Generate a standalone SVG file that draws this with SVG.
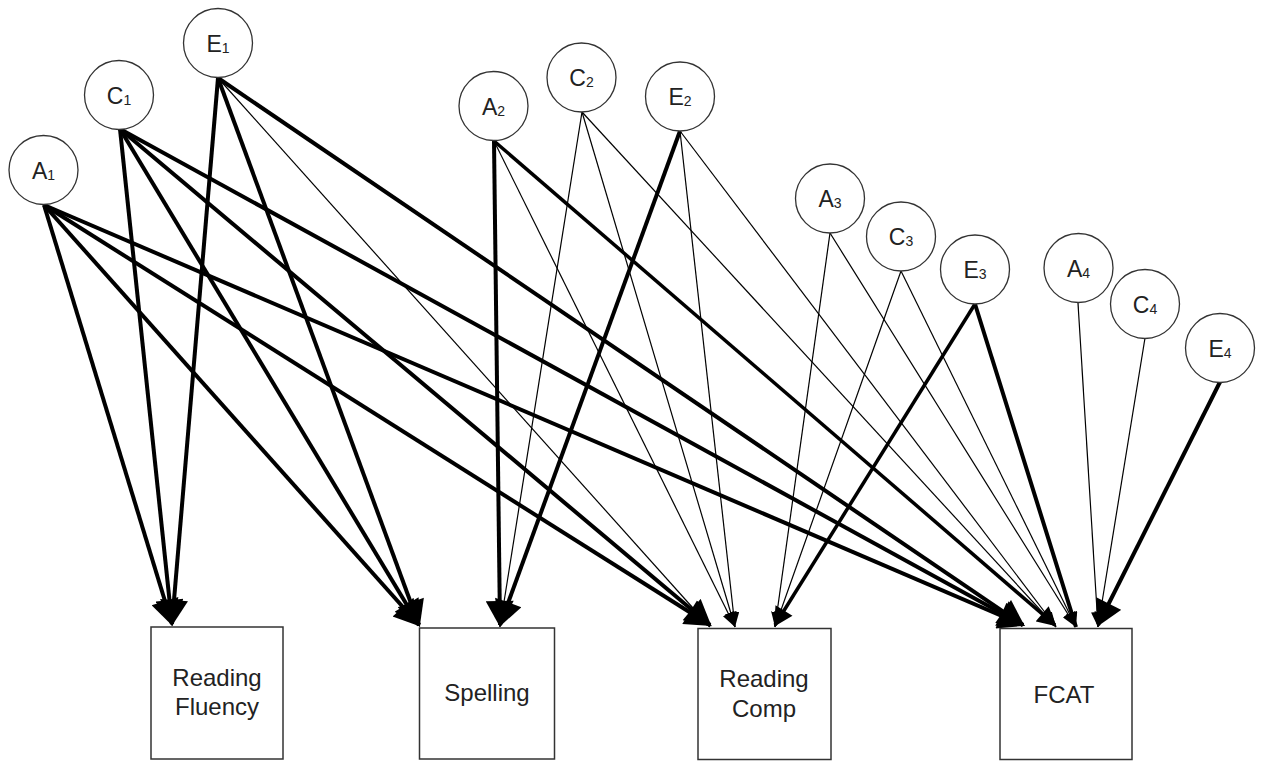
<svg xmlns="http://www.w3.org/2000/svg" width="1265" height="762" viewBox="0 0 1265 762">
<style>
.node circle{fill:#fff;stroke:#333;stroke-width:1.3}
.node rect{fill:#fff;stroke:#333;stroke-width:1.5}
.lbl{font-family:"Liberation Sans",Arial,sans-serif;font-size:23px;fill:#222;text-anchor:middle}
.lbl tspan{font-size:14px}
.box{font-family:"Liberation Sans",Arial,sans-serif;font-size:24px;fill:#222;text-anchor:middle}
.thick{stroke:#000;stroke-width:4;fill:none;marker-end:url(#big)}
.med{stroke:#000;stroke-width:3.5;fill:none;marker-end:url(#mid)}
.thin{stroke:#000;stroke-width:1.2;fill:none;marker-end:url(#small)}
.thickS{stroke:#000;stroke-width:4;fill:none;marker-end:url(#small)}
</style>
<defs>
<marker id="big" markerUnits="userSpaceOnUse" markerWidth="28" markerHeight="28" viewBox="0 0 26 28" refX="24" refY="14" orient="auto"><path d="M0,0 L26,14 L0,28 z" fill="#000"/></marker>
<marker id="mid" markerUnits="userSpaceOnUse" markerWidth="20" markerHeight="20" viewBox="0 0 19 20" refX="17" refY="10" orient="auto"><path d="M0,0 L19,10 L0,20 z" fill="#000"/></marker>
<marker id="small" markerUnits="userSpaceOnUse" markerWidth="15" markerHeight="12" viewBox="0 0 15 12" refX="15" refY="6" orient="auto"><path d="M0,0 L15,6 L0,12 z" fill="#000"/></marker>
</defs>
<rect width="1265" height="762" fill="#fff"/>
<g id="connectors">
<line class="thick" x1="44" y1="205" x2="172" y2="624"/>
<line class="thick" x1="44" y1="205" x2="419" y2="625"/>
<line class="thick" x1="44" y1="205" x2="710" y2="625"/>
<line class="thick" x1="44" y1="205" x2="1023" y2="625"/>
<line class="thick" x1="120" y1="129" x2="172" y2="624"/>
<line class="thick" x1="120" y1="129" x2="419" y2="625"/>
<line class="thick" x1="120" y1="129" x2="710" y2="625"/>
<line class="thick" x1="120" y1="129" x2="1023" y2="625"/>
<line class="thick" x1="218" y1="78" x2="172" y2="624"/>
<line class="thick" x1="218" y1="78" x2="419" y2="625"/>
<line class="thin" x1="218" y1="78" x2="710" y2="627"/>
<line class="thick" x1="218" y1="78" x2="1023" y2="625"/>
<line class="thick" x1="494" y1="141" x2="500" y2="625"/>
<line class="thin" x1="494" y1="141" x2="735" y2="627"/>
<line class="med" x1="494" y1="141" x2="1055" y2="625"/>
<line class="thin" x1="582" y1="112" x2="500" y2="627"/>
<line class="thin" x1="582" y1="112" x2="735" y2="627"/>
<line class="thin" x1="582" y1="112" x2="1056" y2="627"/>
<line class="thick" x1="680" y1="131" x2="500" y2="625"/>
<line class="thin" x1="680" y1="131" x2="735" y2="627"/>
<line class="thin" x1="680" y1="131" x2="1056" y2="627"/>
<line class="thin" x1="830" y1="233" x2="775" y2="627"/>
<line class="thin" x1="830" y1="233" x2="1076" y2="627"/>
<line class="thin" x1="901" y1="271" x2="775" y2="627"/>
<line class="thin" x1="901" y1="271" x2="1076" y2="627"/>
<line class="med" x1="975" y1="304" x2="775" y2="625"/>
<line class="thickS" x1="975" y1="304" x2="1076" y2="627"/>
<line class="thin" x1="1078" y1="303" x2="1098" y2="627"/>
<line class="thin" x1="1145" y1="338" x2="1098" y2="627"/>
<line class="thick" x1="1220" y1="382" x2="1098" y2="625"/>
</g>
<g id="A1" class="node"><circle cx="43.5" cy="170" r="34.5"/><text class="lbl" x="43.5" y="178.5">A<tspan dy="1">1</tspan></text></g>
<g id="C1" class="node"><circle cx="119" cy="95" r="34.5"/><text class="lbl" x="119" y="103.5">C<tspan dy="1">1</tspan></text></g>
<g id="E1" class="node"><circle cx="218" cy="43" r="34.5"/><text class="lbl" x="218" y="51.5">E<tspan dy="1">1</tspan></text></g>
<g id="A2" class="node"><circle cx="493.5" cy="106" r="34.5"/><text class="lbl" x="493.5" y="114.5">A<tspan dy="1">2</tspan></text></g>
<g id="C2" class="node"><circle cx="581.5" cy="77.5" r="34.5"/><text class="lbl" x="581.5" y="86">C<tspan dy="1">2</tspan></text></g>
<g id="E2" class="node"><circle cx="680" cy="96.5" r="34.5"/><text class="lbl" x="680" y="105">E<tspan dy="1">2</tspan></text></g>
<g id="A3" class="node"><circle cx="830" cy="198.5" r="34.5"/><text class="lbl" x="830" y="207">A<tspan dy="1">3</tspan></text></g>
<g id="C3" class="node"><circle cx="901" cy="236.5" r="34.5"/><text class="lbl" x="901" y="245">C<tspan dy="1">3</tspan></text></g>
<g id="E3" class="node"><circle cx="975" cy="269.5" r="34.5"/><text class="lbl" x="975" y="278">E<tspan dy="1">3</tspan></text></g>
<g id="A4" class="node"><circle cx="1078.5" cy="268" r="34.5"/><text class="lbl" x="1078.5" y="276.5">A<tspan dy="1">4</tspan></text></g>
<g id="C4" class="node"><circle cx="1145" cy="304" r="34.5"/><text class="lbl" x="1145" y="312.5">C<tspan dy="1">4</tspan></text></g>
<g id="E4" class="node"><circle cx="1220" cy="348" r="34.5"/><text class="lbl" x="1220" y="356.5">E<tspan dy="1">4</tspan></text></g>
<g id="ReadingFluency" class="node"><rect x="151" y="627" width="132" height="132"/><text class="box" x="217" y="686">Reading</text><text class="box" x="217" y="715">Fluency</text></g>
<g id="Spelling" class="node"><rect x="419.5" y="628" width="135" height="131"/><text class="box" x="487" y="701">Spelling</text></g>
<g id="ReadingComp" class="node"><rect x="698" y="628.5" width="133" height="131"/><text class="box" x="764" y="687">Reading</text><text class="box" x="764" y="717">Comp</text></g>
<g id="FCAT" class="node"><rect x="1000" y="628.5" width="132" height="131"/><text class="box" x="1064" y="703">FCAT</text></g>
</svg>
